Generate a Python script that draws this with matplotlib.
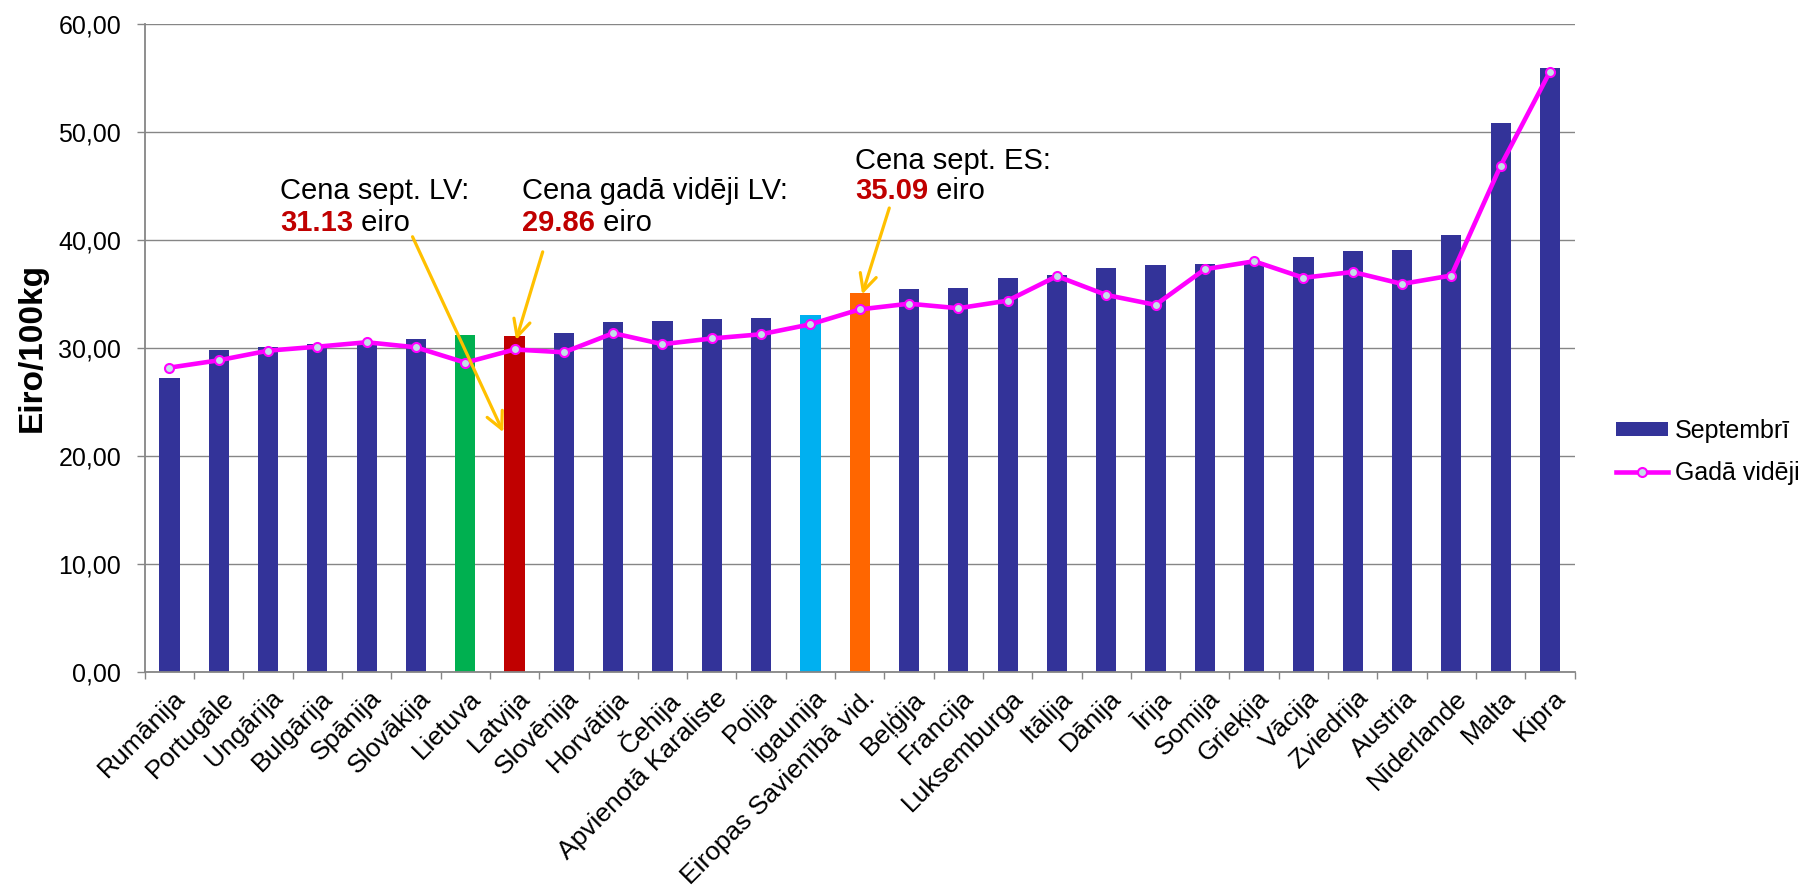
import matplotlib
matplotlib.use("Agg")
import matplotlib.pyplot as plt
import matplotlib.transforms as mtransforms
from matplotlib.ticker import FuncFormatter, FixedLocator
import numpy as np

plt.rcParams['font.family'] = ['Liberation Sans', 'DejaVu Sans']

categories = ['Rumānija', 'Portugāle', 'Ungārija', 'Bulgārija', 'Spānija', 'Slovākija',
              'Lietuva', 'Latvija', 'Slovēnija', 'Horvātija', 'Čehija',
              'Apvienotā Karaliste', 'Polija', 'igaunija', 'Eiropas Savienībā vid.',
              'Beļģija', 'Francija', 'Luksemburga', 'Itālija', 'Dānija', 'Īrija',
              'Somija', 'Grieķija', 'Vācija', 'Zviedrija', 'Austria', 'Nīderlande',
              'Malta', 'Kipra']

september = [27.25, 29.81, 30.12, 30.37, 30.68, 30.86, 31.20, 31.13, 31.42, 32.44,
             32.47, 32.65, 32.79, 33.04, 35.09, 35.48, 35.55, 36.51, 36.76, 37.43,
             37.65, 37.74, 37.95, 38.40, 38.94, 39.06, 40.47, 50.79, 55.95]

year_avg = [28.18, 28.86, 29.75, 30.12, 30.53, 30.06, 28.64, 29.86, 29.60, 31.37,
            30.35, 30.88, 31.27, 32.19, 33.57, 34.10, 33.68, 34.38, 36.65, 34.91,
            33.99, 37.29, 38.03, 36.50, 37.04, 35.93, 36.71, 46.87, 55.58]

series_names = ['Septembrī', 'Gadā vidēji']
yticks = [0, 10, 20, 30, 40, 50, 60]

NAVY = '#333399'
highlight = {'Lietuva': '#00B050', 'Latvija': '#C00000',
             'igaunija': '#00B0F0', 'Eiropas Savienībā vid.': '#FF6600'}
bar_colors = [highlight.get(c, NAVY) for c in categories]

fig = plt.figure(figsize=(18.08, 8.91), dpi=100)
ax = fig.add_axes([0.0801, 0.2458, 0.7908, 0.7273])

x = np.arange(len(categories))
bars = ax.bar(x, september, width=0.41, color=bar_colors, label=series_names[0], zorder=2)
line, = ax.plot(x, year_avg, color='#FF00FF', lw=3.3, marker='o', markersize=6.5,
                markerfacecolor='#C3E0E8', markeredgecolor='#FF00FF', markeredgewidth=1.5,
                label=series_names[1], zorder=3)

ax.set_xlim(-0.5, len(categories) - 0.5)
ax.set_ylim(0, 60)
ax.set_yticks(yticks)
ax.yaxis.set_major_formatter(FuncFormatter(lambda v, p: f"{v:.2f}".replace('.', ',')))
ax.yaxis.grid(True, color='#868686', lw=1.0, zorder=0)
ax.set_axisbelow(True)

for s in ['top', 'right']:
    ax.spines[s].set_visible(False)
for s in ['left', 'bottom']:
    ax.spines[s].set_color('#868686')
    ax.spines[s].set_linewidth(1.3)

ax.tick_params(axis='y', direction='out', length=5.5, width=1, color='#868686',
               labelsize=18, pad=11.5, labelcolor='black')

ax.set_xticks(x)
ax.set_xticklabels(categories, rotation=45, ha='right', rotation_mode='anchor',
                   fontsize=19)
ax.tick_params(axis='x', which='major', length=0, pad=10)
ax.xaxis.set_minor_locator(FixedLocator(np.arange(-0.5, len(categories), 1)))
ax.tick_params(axis='x', which='minor', direction='out', length=4.8, width=1, color='#868686')
offset = mtransforms.ScaledTranslation(3 / 100, 0, fig.dpi_scale_trans)
for lab in ax.get_xticklabels():
    lab.set_transform(lab.get_transform() + offset)

ax.set_ylabel('Eiro/100kg', fontsize=24, fontweight='bold')
ax.yaxis.set_label_coords(-0.0677, 0.5)

# annotations
ARROW = '#FFC000'
RED = '#C00000'
FS = 21


def note(xpos, y1, y2, line1, number):
    ax.text(xpos, y1, line1, fontsize=FS, ha='left', va='baseline', color='black')
    t = ax.text(xpos, y2, number, fontsize=FS, ha='left', va='bottom',
                color=RED, fontweight='bold')
    ax.annotate(' eiro', xy=(1, 0), xycoords=t, ha='left', va='bottom',
                fontsize=FS, color='black')


note(2.25, 43.8, 40.3, 'Cena sept. LV:', '31.13')
note(7.16, 43.8, 40.3, 'Cena gadā vidēji LV:', '29.86')
note(13.91, 46.6, 43.25, 'Cena sept. ES:', '35.09')

arrow_kw = dict(arrowstyle='->', color=ARROW, lw=2.3, mutation_scale=30,
                shrinkA=0, shrinkB=0)
ax.annotate('', xy=(6.77, 22.2), xytext=(4.93, 40.3), arrowprops=arrow_kw, zorder=5)
ax.annotate('', xy=(7.03, 30.74), xytext=(7.57, 38.9), arrowprops=arrow_kw, zorder=5)
ax.annotate('', xy=(14.05, 34.96), xytext=(14.6, 42.96), arrowprops=arrow_kw, zorder=5)

fig.legend(handles=[bars, line], labels=series_names,
           loc='center left', bbox_to_anchor=(1616 / 1808, 1 - 452 / 891),
           frameon=False, fontsize=18, borderpad=0, borderaxespad=0,
           handlelength=2.1, handletextpad=0.25, labelspacing=0.75,
           handleheight=0.51)

fig.savefig('out.png', dpi=100)
